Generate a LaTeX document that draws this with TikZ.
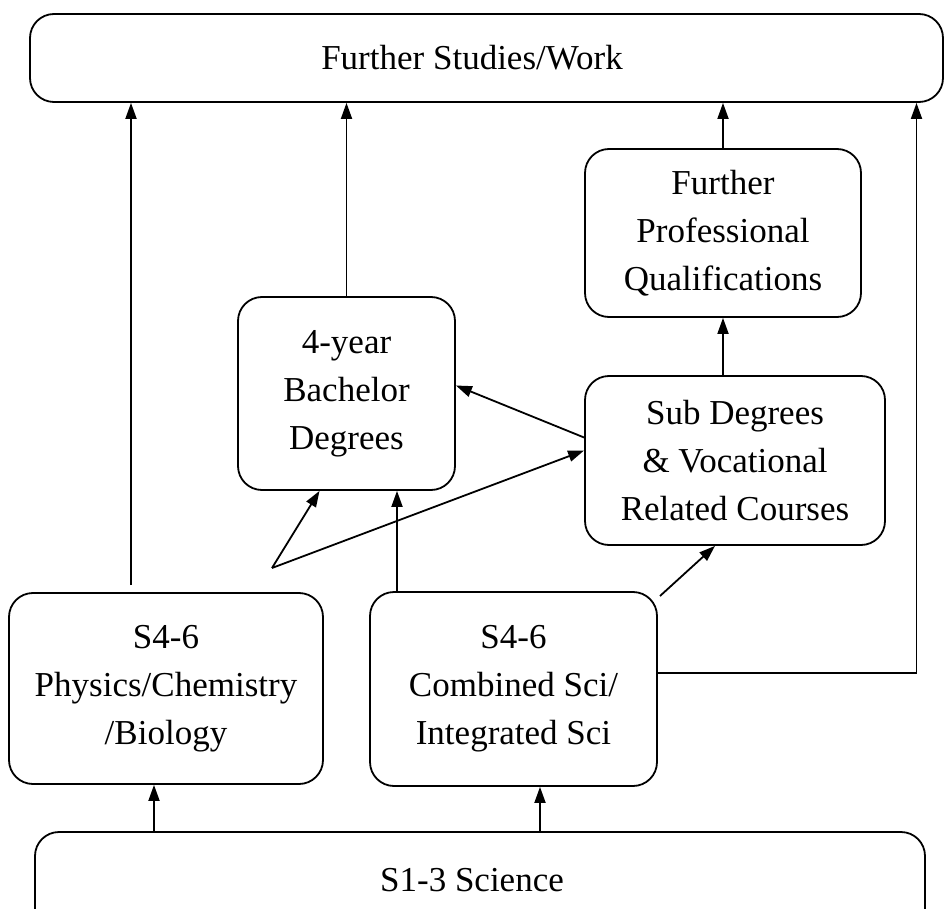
\documentclass[tikz,border=0pt]{standalone}
\usepackage{fontspec}
\setmainfont{Liberation Serif}
\usetikzlibrary{arrows.meta}
\tikzset{
  box/.style={draw=black,line width=1.8pt,rounded corners=24pt,align=center,
    font=\fontsize{35}{48}\selectfont},
  arr/.style={line width=1.8pt,-{Triangle[length=16pt,width=11pt]}},
  ln/.style={line width=1.8pt}
}
\begin{document}
\begin{tikzpicture}[x=1pt,y=-1pt]
    \clip (0,0) rectangle (945,909);
    \node[box,minimum width=913pt,minimum height=88pt]  (study) at (486.5, 58.0) {};
    \node[font=\fontsize{35}{48}\selectfont]              (studyt) at (472.0, 58.0) {Further Studies/Work};
    \node[box,minimum width=276pt,minimum height=168pt] (prof)  at (723.0,233.0) {Further\\Professional\\Qualifications};
    \node[box,minimum width=217pt,minimum height=193pt] (bach)  at (346.5,393.5) {4-year\\Bachelor\\Degrees};
    \node[box,minimum width=300pt,minimum height=169pt] (sub)   at (735.0,460.5) {Sub Degrees\\\& Vocational\\Related Courses};
    \node[box,minimum width=314pt,minimum height=191pt] (phys)  at (166.0,688.5) {S4-6\\Physics/Chemistry\\/Biology};
    \node[box,minimum width=287pt,minimum height=194pt] (comb)  at (513.5,689.0) {S4-6\\Combined Sci/\\Integrated Sci};
    \node[box,minimum width=890pt,minimum height=110pt] (base)  at (480.0,887.0) {};
    \node[font=\fontsize{35}{48}\selectfont]              (baset) at (472.0,880.0) {S1-3 Science};
    \coordinate (physup) at (131,585);
    \coordinate (fork)   at (272,568);
    \coordinate (combl)  at (397,592);
    \coordinate (combr)  at (660,596);
    \draw[arr]  (physup) -- (physup |- study.south);
    \draw[arr]  (bach.north) -- (bach.north |- study.south);
    \draw[arr]  (prof.north) -- (prof.north |- study.south);
    \draw[arr]  (prof.south |- sub.north) -- (prof.south);
    \draw[arr]  ([yshift=23pt]sub.west) -- ([yshift=8pt]bach.east);
    \draw[arr]  (fork) -- ([xshift=-27pt]bach.south);
    \draw[arr]  (fork) -- ([yshift=10pt]sub.west);
    \draw[arr]  (combl) -- (combl |- bach.south);
    \draw[arr]  (combr) -- ([xshift=-20pt]sub.south);
    \draw[arr]  ([yshift=16pt]comb.east) -| ([xshift=430pt]study.south);
    \draw[arr]  ([xshift=-326pt]base.north) -- ([xshift=-12pt]phys.south);
    \draw[arr]  ([xshift=60pt]base.north) -- ([xshift=26.5pt]comb.south);
  \end{tikzpicture}
\end{document}
